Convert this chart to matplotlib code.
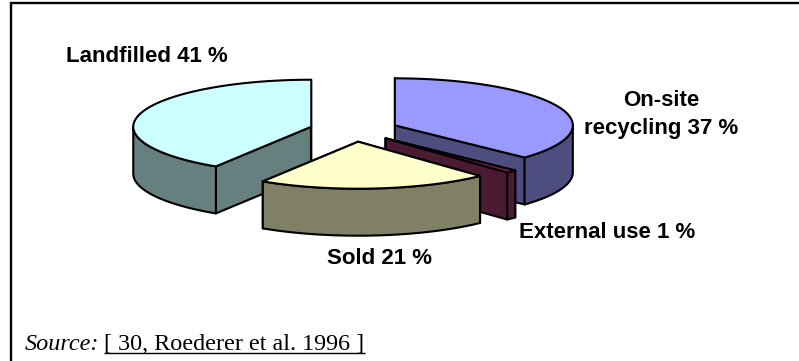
import matplotlib
matplotlib.use('Agg')
import matplotlib.pyplot as plt
import numpy as np
from matplotlib.patches import Polygon

# values in the order they go round the pie, starting at 12 o'clock, counter-clockwise
labels = ['Landfilled 41 %', 'Sold 21 %', 'External use 1 %', 'On-site\nrecycling 37 %']
values = [41, 21, 1, 37]
top_colors = ['#CCFFFF', '#FFFFCC', '#7A1F4D', '#9999FF']
side_colors = ['#668080', '#808066', '#4D1A33', '#4D4D80']
source_text = 'Source:'
source_ref = '[ 30, Roederer et al. 1996 ]'

# pie geometry, in picture pixels
cx, cy = 354, 130
rx, ry = 178, 47
depth = 47
explode = 0.25


def rim(center, a0, a1):
    t = np.radians(np.arange(a0, a1, 1.0).tolist() + [a1])
    return np.column_stack((center[0] + rx * np.cos(t), center[1] - ry * np.sin(t)))


def down(pts):
    return pts + np.array([0, depth])


def add(ax, pts, color):
    ax.add_patch(Polygon(pts, closed=True, facecolor=color, edgecolor='black',
                         linewidth=1.5, joinstyle='round'))


fig = plt.figure(figsize=(7.99, 3.61), dpi=100)
ax = fig.add_axes([0, 0, 1, 1])
ax.set_xlim(0, 799)
ax.set_ylim(361, 0)
ax.axis('off')

spans = np.cumsum([0] + values) * 3.6 + 90
wedges = []
for i in range(len(values)):
    a0, a1 = spans[i], spans[i + 1]
    mid = np.radians((a0 + a1) / 2)
    center = (cx + explode * rx * np.cos(mid), cy - explode * ry * np.sin(mid))
    wedges.append((i, a0, a1, center))

# back to front: Landfilled, On-site, External use, Sold
for i, a0, a1, center in [wedges[0], wedges[3], wedges[2], wedges[1]]:
    c = np.array([center])
    for a in (a1, a0):
        cut = np.vstack((c, rim(center, a, a)))
        add(ax, np.vstack((cut, down(cut)[::-1])), side_colors[i])
    for lo, hi in ((180, 360), (540, 720)):
        b0, b1 = max(a0, lo), min(a1, hi)
        if b1 > b0:
            arc = rim(center, b0, b1)
            add(ax, np.vstack((arc, down(arc)[::-1])), side_colors[i])
    add(ax, np.vstack((c, rim(center, a0, a1))), top_colors[i])

# frame: only top and left are there
ax.plot([11.2, 11.2, 799], [361, 3.2, 3.2], color='black', lw=1.7, solid_joinstyle='miter',
        solid_capstyle='butt')

bold = dict(family='Liberation Sans', fontweight='bold', fontsize=16, color='black')
ax.text(146.5, 57, labels[0], ha='center', va='center', **bold)
ax.text(379.5, 259, labels[1], ha='center', va='center', **bold)
ax.text(607.5, 233, labels[2], ha='center', va='center', **bold)
ax.text(661, 114.5, labels[3], ha='center', va='center', linespacing=1.4, **bold)

serif = dict(family='Liberation Serif', fontsize=17.4, color='black')
src = ax.text(25, 350, source_text, style='italic', va='baseline', **serif)
fig.canvas.draw()
inv = ax.transData.inverted()
x1 = inv.transform(src.get_window_extent().get_points())[1][0] + 5
ref = ax.text(x1, 350, source_ref, va='baseline', **serif)
fig.canvas.draw()
box = inv.transform(ref.get_window_extent().get_points())
ax.plot([box[0][0], box[1][0]], [352.5, 352.5], color='black', lw=1, solid_capstyle='butt')

fig.savefig('out.png', dpi=100)
